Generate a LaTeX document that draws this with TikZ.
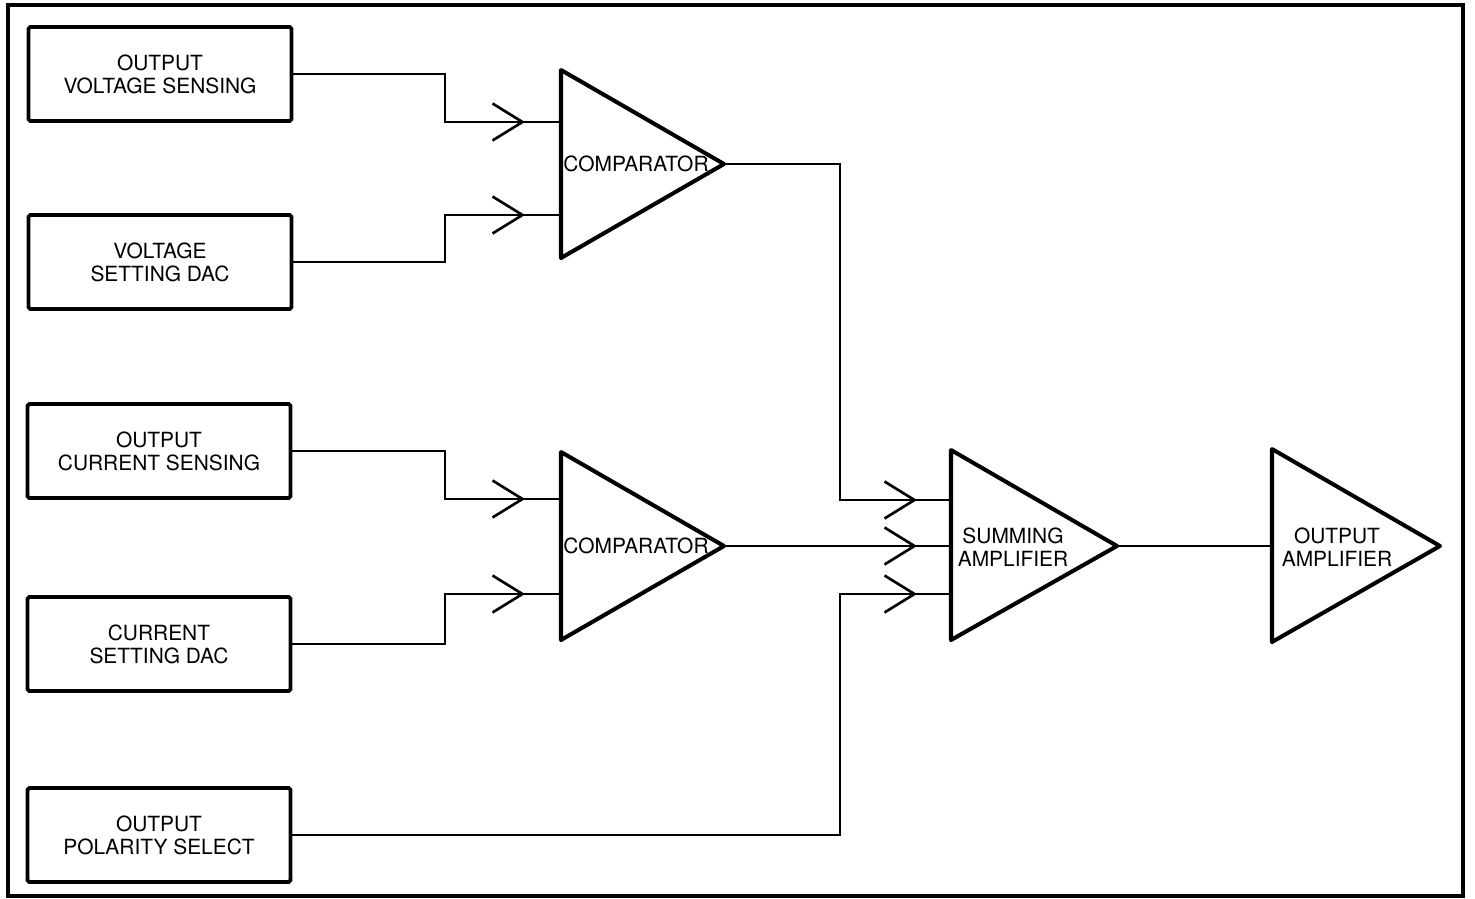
\documentclass[tikz,border=0pt]{standalone}
\usepackage{fontspec}
\setmainfont{TeX Gyre Heros}
\usepackage{tikz}
\usetikzlibrary{arrows.meta, decorations.markings}

\tikzset{
	block/.style={draw, line width=2.1pt, rounded corners=1pt, minimum width=5.26cm, minimum height=1.88cm, inner sep=0pt, align=center, font=\fontsize{11.9}{13}\selectfont},
	amp/.style={draw, line width=2.3pt, line join=round},
	label/.style={align=center, inner sep=0pt, font=\fontsize{11.9}{13}\selectfont},
	conn/.style={line width=1.5pt},
	chevA/.style={postaction={decorate, decoration={markings, mark=at position -0.72cm with {\arrow{Straight Barb[length=0.6cm, width=0.74cm, line width=1.5pt]}}}}},
	chevB/.style={postaction={decorate, decoration={markings, mark=at position -0.68cm with {\arrow{Straight Barb[length=0.6cm, width=0.74cm, line width=1.5pt]}}}}}
}

\begin{document}
\begin{tikzpicture}[x=0.02cm, y=-0.02cm]
		
		% Page and outer frame
		\useasboundingbox (0,0) rectangle (1475,899);
		\draw[line width=2pt] (8,5) rectangle (1463,896);
		
		% Input blocks
		\node[block] (ovs) at (160,74)  {OUTPUT\\VOLTAGE SENSING};
		\node[block] (vdac) at (160,262) {VOLTAGE\\SETTING DAC};
		\node[block] (ocs) at (159,451) {OUTPUT\\CURRENT SENSING};
		\node[block] (cdac) at (159,644) {CURRENT\\SETTING DAC};
		\node[block] (ops) at (159,835) {OUTPUT\\POLARITY SELECT};
		
		% Voltage comparator
		\draw[amp] (561,70) -- (724,164) -- (561,258) -- cycle;
		\coordinate (cmpV in1) at (561,122);
		\coordinate (cmpV in2) at (561,215);
		\coordinate (cmpV out) at (724,164);
		\node[label] (cmpV) at (636,164) {COMPARATOR};
		
		% Current comparator
		\draw[amp] (561,452) -- (724,546) -- (561,640) -- cycle;
		\coordinate (cmpI in1) at (561,499);
		\coordinate (cmpI in2) at (561,594);
		\coordinate (cmpI out) at (724,546);
		\node[label] (cmpI) at (636,546) {COMPARATOR};
		
		% Summing amplifier
		\draw[amp] (951,450) -- (1117,546) -- (951,640) -- cycle;
		\coordinate (sum in1) at (951,500);
		\coordinate (sum in2) at (951,546);
		\coordinate (sum in3) at (951,594);
		\coordinate (sum out) at (1117,546);
		\node[label] (sum) at (1013,547) {SUMMING\\AMPLIFIER};
		
		% Output amplifier
		\draw[amp] (1272,449) -- (1440,546) -- (1272,642) -- cycle;
		\coordinate (oamp in) at (1272,546);
		\node[label] (oamp) at (1337,547) {OUTPUT\\AMPLIFIER};
		
		% Bend columns
		\coordinate (busA) at (445,0);
		\coordinate (busB) at (840,0);
		
		% Connectors into the comparators
		\draw[conn, chevA] (ovs.east) -| (busA |- cmpV in1) -- (cmpV in1);
		\draw[conn, chevA] (vdac.east) -| (busA |- cmpV in2) -- (cmpV in2);
		\draw[conn, chevA] (ocs.east) -| (busA |- cmpI in1) -- (cmpI in1);
		\draw[conn, chevA] (cdac.east) -| (busA |- cmpI in2) -- (cmpI in2);
		
		% Connectors into the summing amplifier
		\draw[conn, chevB] (cmpV out) -| (busB |- sum in1) -- (sum in1);
		\draw[conn, chevB] (cmpI out) -- (sum in2);
		\draw[conn, chevB] (ops.east) -| (busB |- sum in3) -- (sum in3);
		
		% Summing amplifier to output amplifier
		\draw[conn] (sum out) -- (oamp in);
		
	\end{tikzpicture}
\end{document}
